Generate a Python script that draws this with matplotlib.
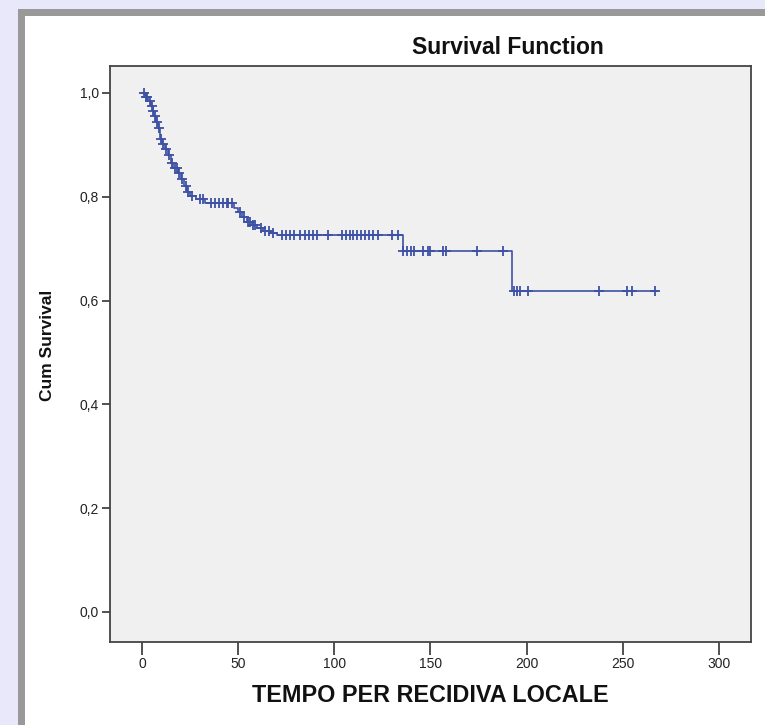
import numpy as np
import matplotlib
matplotlib.use("Agg")
import matplotlib.pyplot as plt
from matplotlib.patches import Rectangle

# ---- data ----
step_times = [0, 1.5, 3, 4.5, 5.5, 6.5, 7.5, 8.5, 9.3, 10.5, 12, 13.5, 15, 16, 18.5,
              20.5, 22, 23.5, 25, 28, 33, 48, 50, 52, 54.5, 57, 60, 63, 67, 70,
              135.5, 192.5]
step_surv = [1.0, 0.993, 0.985, 0.975, 0.965, 0.955, 0.945, 0.932, 0.912, 0.902,
             0.892, 0.880, 0.866, 0.856, 0.846, 0.834, 0.82, 0.81, 0.802, 0.795,
             0.788, 0.779, 0.77, 0.761, 0.752, 0.745, 0.739, 0.734, 0.73, 0.726,
             0.696, 0.618]
end_time = 268
censor_times = [1, 2, 2.5, 4, 5, 6, 7, 8, 9, 10, 11, 12.5, 14, 15.5, 17, 18, 19.5,
                21, 23, 24, 26, 30, 32, 36, 38, 40, 42, 44, 45, 47, 51, 53, 55, 56,
                58, 59, 62, 64, 66, 68, 73, 75, 77, 79, 82, 85, 87, 89, 91, 97,
                104, 106, 108, 110, 112, 114, 116, 118, 120, 123, 130, 133,
                136, 138, 140, 141.5, 146, 149, 150, 156.5, 158, 174, 187.5,
                193.5, 195, 196.5, 200.5, 237.5, 252, 255, 267]
x_ticks = [0, 50, 100, 150, 200, 250, 300]
y_ticks = [0.0, 0.2, 0.4, 0.6, 0.8, 1.0]
y_tick_labels = ["0,0", "0,2", "0,4", "0,6", "0,8", "1,0"]

plt.rcParams['font.family'] = ['Liberation Sans', 'DejaVu Sans']

W, H = 765, 725
fig = plt.figure(figsize=(W / 100, H / 100), dpi=100)
fig.patch.set_facecolor('#e8e8fa')

# white panel with grey frame (left & top)
fig.patches.append(Rectangle((18 / W, 0), 1 - 18 / W, 1 - 9 / H, transform=fig.transFigure,
                             facecolor='#999999', edgecolor='none', zorder=-2))
fig.patches.append(Rectangle((25 / W, 0), 1 - 25 / W, 1 - 16 / H, transform=fig.transFigure,
                             facecolor='white', edgecolor='none', zorder=-1))

ax = fig.add_axes([110 / W, 1 - 642 / H, (751 - 110) / W, (642 - 66) / H])
ax.set_zorder(2)
ax.set_facecolor('#f0f0f0')

col = '#3d51a5'
ts = list(step_times) + [end_time]
ss = list(step_surv) + [step_surv[-1]]
ax.step(ts, ss, where='post', color=col, lw=1.2, zorder=3)

idx = np.searchsorted(step_times, censor_times, side='right') - 1
cy = np.array(step_surv)[idx]
ax.plot(censor_times, cy, linestyle='none', marker='+', markersize=7,
        markeredgewidth=1.3, color=col, zorder=4)

ax.set_xlim(-16.6, 316.7)
ax.set_ylim(-0.058, 1.052)
ax.set_xticks(x_ticks)
ax.set_xticklabels([str(t) for t in x_ticks])
ax.set_yticks(y_ticks)
ax.set_yticklabels(y_tick_labels)
ax.tick_params(axis='x', length=9, width=1.2, color='#333333', labelsize=10,
               labelcolor='#222222', pad=2)
ax.tick_params(axis='y', length=6, width=1.2, color='#333333', labelsize=10,
               labelcolor='#222222', pad=2)
for sp in ax.spines.values():
    sp.set_color('#444444')
    sp.set_linewidth(1.3)

fig.text(508 / W, 1 - 47 / H, 'Survival Function', ha='center', va='center',
         fontsize=16.5, fontweight='bold', color='#111111')
fig.text(430 / W, 1 - 695 / H, 'TEMPO PER RECIDIVA LOCALE', ha='center', va='center',
         fontsize=16.8, fontweight='bold', color='#111111')
fig.text(47 / W, 1 - 345 / H, 'Cum Survival', ha='center', va='center',
         rotation=90, fontsize=12.5, fontweight='bold', color='#111111')

fig.savefig('out.png', dpi=100, facecolor=fig.get_facecolor())
